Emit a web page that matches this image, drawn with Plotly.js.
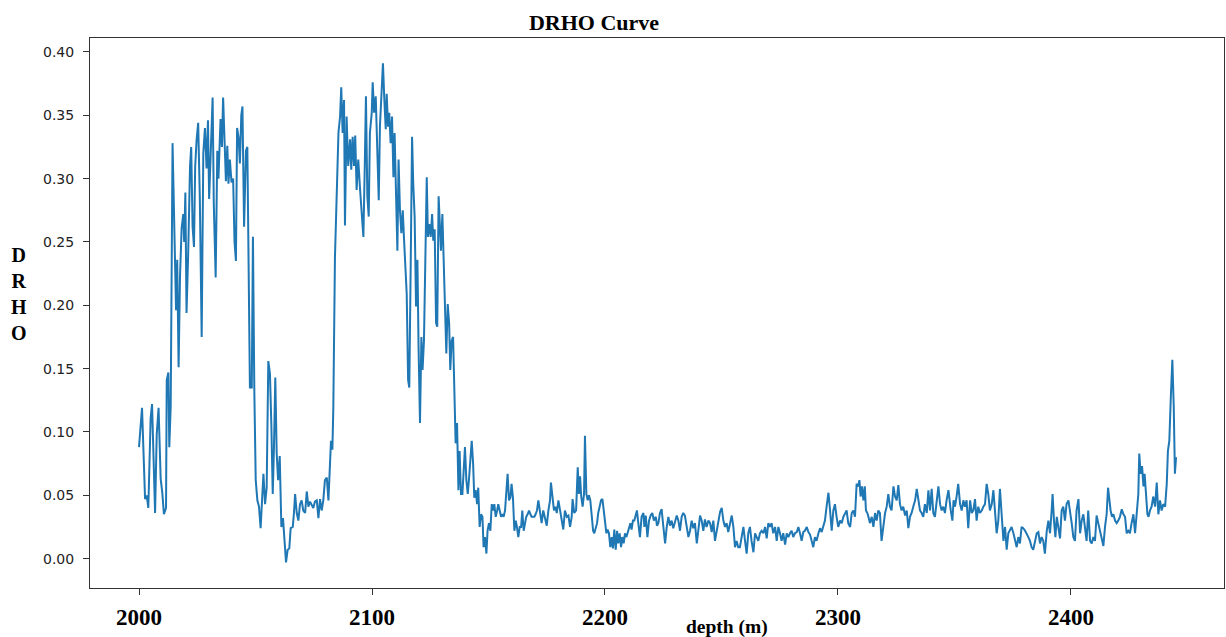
<!DOCTYPE html>
<html>
<head>
<meta charset="utf-8">
<script src="https://cdn.plot.ly/plotly-3.0.1.min.js"></script>
<style>html,body{margin:0;padding:0;background:#fff;}#chart{width:1226px;height:637px;}</style>
</head>
<body>
<div id="chart"></div>
<script>
// depth (m)
const depth = [
2000.0,2001.3,2002.6,2003.3,2004.0,2005.0,2005.6,2006.9,2007.6,2008.4,2009.3,2010.0,2010.7,2011.6,2011.9,2012.6,2013.0,2013.6,2014.4,2015.4,
2015.9,2016.4,2017.0,2017.6,2018.3,2019.0,2019.4,2019.9,2020.4,2021.1,2021.9,2022.4,2023.0,2023.6,2024.1,2024.7,2025.4,2026.1,2026.9,2027.6,
2028.3,2029.0,2029.6,2030.1,2030.9,2031.6,2032.1,2032.9,2033.6,2034.1,2035.0,2035.6,2036.1,2036.7,2037.3,2037.9,2038.4,2039.0,2039.7,2040.4,
2041.0,2041.6,2042.1,2042.7,2043.3,2043.9,2044.4,2045.1,
2045.9,2046.5,2047.1,2047.6,2048.4,2048.9,2049.5,2050.1,2050.8,2051.5,2052.2,2052.8,2053.4,2054.1,2054.8,2055.5,2056.2,2056.8,2057.4,2057.9,
2058.5,2059.1,2059.7,2060.4,2061.1,2061.8,2062.5,2063.1,2063.8,2064.5,2065.1,2066.0,2066.5,2067.0,2067.7,2068.4,2069.1,2069.8,2070.5,2071.3,
2072.0,2072.7,2073.4,2074.1,2074.8,2075.5,2076.3,2077.0,2077.7,2078.4,2079.1,2079.8,2080.6,2081.3,2082.0,2082.4,2083.0,2083.4,2084.1,2084.8,
2085.6,2086.3,2086.8,2087.4,2088.0,2088.4,2089.1,2089.8,2090.6,2091.1,2091.7,2092.3,2092.8,2093.4,2094.1,2094.9,2095.6,2096.3,2096.9,2097.4,
2098.0,2098.6,2099.1,2099.9,2100.3,2100.9,2101.6,2102.3,2102.9,2103.4,2104.1,2104.7,2105.3,2105.9,2106.3,2106.9,2107.4,2108.0,2108.6,2109.2,
2109.7,2110.3,2110.9,2111.4,2112.0,2112.6,2113.2,2113.7,2114.3,2114.9,2115.5,2116.0,2116.6,2117.2,2117.7,2118.3,2118.9,2119.5,2120.0,2120.6,
2121.2,2121.7,2122.3,2122.9,2123.5,2124.0,2124.6,2125.2,2125.8,2126.3,2126.9,2127.5,2128.0,2128.6,
2129.6,2130.2,2130.8,2131.3,2131.9,2132.5,2133.1,2133.6,2134.2,2134.8,2135.3,2135.9,2136.5,2137.1,2137.6,2138.2,2138.8,2139.3,2139.9,2140.5,
2141.1,2141.6,2142.2,2142.8,2143.4,2143.9,2144.5,2145.1,2145.6,2146.2,2146.8,2147.4,2147.9,2148.5,2149.1,2149.6,2150.2,2150.8,2151.4,2151.9,
2152.5,2153.1,2153.7,2154.2,2154.8,2155.4,2155.9,2156.5,2157.1,2157.7,2158.2,2158.8,2159.4,2159.9,2160.5,2161.1,2161.7,2162.2,2162.8,2163.4,
2164.0,2164.5,2165.1,2165.7,2166.2,2166.8,2167.4,2168.0,2168.5,2169.1,2169.7,2170.2,2170.8,2171.4,
2172.1,2172.8,2173.5,2174.3,2175.0,2175.7,2176.4,2176.8,2177.5,2178.1,2178.7,2179.3,2180.0,2180.7,2181.4,2182.1,2182.8,2183.6,2184.3,2185.0,
2185.7,2186.1,2186.8,2187.6,2188.3,2188.8,2189.3,2189.8,2190.4,2191.0,2191.4,2192.0,2192.6,2193.1,2193.7,2194.3,2194.9,2195.4,2196.0,2196.6,
2197.1,2197.7,2198.3,2198.9,2199.4,2200.0,2200.6,2201.1,2201.7,2202.3,2202.9,2203.4,2204.0,2204.6,2205.2,2205.7,2206.3,2206.9,2207.4,2208.0,
2208.6,2209.2,2209.7,2210.3,2210.9,2211.4,2212.0,2212.6,2213.2,2213.7,2214.3,
2215.0,2215.7,2216.5,2216.9,2217.5,2218.2,2218.9,2219.6,2220.3,2221.0,2221.8,2222.3,2222.9,2223.6,2224.3,2225.0,2225.8,2226.5,2227.2,2227.9,
2228.6,2229.3,2230.1,2230.8,2231.5,2232.2,2232.9,2233.6,2234.3,2235.1,2235.8,2236.5,2237.2,2237.9,2238.6,2239.4,2240.1,2240.8,2241.5,2242.2,
2242.9,2243.6,2244.4,2245.1,2245.8,2246.5,2247.2,2247.9,2248.6,2249.4,2250.1,2250.8,2251.5,2252.2,2252.9,2253.7,2254.4,2255.1,2255.8,2256.5,
2257.2,
2257.9,2258.7,2259.4,2260.1,2260.8,2261.5,2262.2,2262.9,2263.7,2264.4,2265.1,2265.8,2266.5,2267.2,2268.0,2268.7,2269.4,2270.1,2270.8,2271.5,
2272.2,2273.0,2273.7,2274.4,2275.1,2275.8,2276.5,2277.3,2278.0,2278.7,2279.4,2280.1,2280.8,2281.5,2282.3,2283.0,2283.7,2284.4,2285.1,2285.8,
2286.6,2287.3,2288.0,2288.7,2289.4,2290.1,2290.8,2291.6,2292.3,2293.0,2293.7,2294.4,2295.1,2295.9,2296.6,2297.3,2298.0,2298.7,2299.4,2300.1,
2300.9,2301.6,2302.3,
2303.0,2303.7,2304.4,2305.2,2305.9,2306.6,2307.3,2308.0,2308.7,2309.2,2309.7,2310.3,2310.9,2311.5,2312.0,2312.6,2313.2,2313.7,2314.5,2315.2,
2315.9,2316.6,2317.3,2318.0,2318.7,2319.5,2320.2,2320.9,2321.6,2322.3,2323.0,2323.8,2324.5,2325.2,2325.9,2326.6,2327.3,2328.0,2328.8,2329.5,
2330.2,2330.9,2331.6,2332.3,2333.1,2333.8,2334.5,2335.2,2335.9,2336.6,2337.3,2338.1,2338.8,2339.5,2340.2,2340.9,2341.6,2342.4,2343.1,2343.8,
2344.5,2345.2,2345.9,2346.6,2347.4,
2348.4,2349.1,2349.6,2350.2,2350.9,2351.6,2352.4,2353.1,2353.8,2354.5,2355.2,2355.9,2356.7,2357.4,2358.1,2358.8,2359.5,2360.2,2360.9,2361.7,
2362.4,2363.1,2363.8,2364.5,2365.2,2366.0,2366.7,2367.4,2368.1,2368.8,2369.5,2370.2,2371.0,2371.7,2372.4,2373.1,2373.8,2374.5,2375.3,2376.0,
2376.7,2377.4,2378.1,2378.8,2379.5,2380.3,2381.0,2381.7,2382.4,2383.1,2383.8,2384.6,2385.3,2386.0,2386.7,2387.4,2388.1,2388.8,2389.6,2390.3,
2391.0,2391.7,2392.1,
2392.7,2393.3,2393.9,2394.6,2395.3,2396.0,2396.7,2397.4,2398.1,2398.9,2399.6,2400.3,2401.0,2401.7,2402.4,2403.2,2403.9,2404.6,2405.3,2406.0,
2406.7,2407.4,2408.2,2408.9,2409.6,2410.3,2411.0,2411.7,2412.5,2413.2,2413.9,2414.6,2415.3,2415.9,2416.5,2417.0,2417.6,2418.2,2418.9,2419.6,
2420.3,2421.0,2421.8,2422.5,2423.2,2423.9,2424.6,2425.3,2426.0,2426.8,2427.5,2428.2,2428.9,2429.3,2429.9,2430.5,2431.1,2431.6,2432.2,2432.8,
2433.3,2433.9,2434.6,2435.3,2436.1,2436.8,2437.5,2438.2,2438.9,2439.6,2440.4,2441.1,2441.6,2442.2,2442.8,2443.5,2444.1,2444.6,2445.1
];
// DRHO values
const drho = [
.088,.119,.047,.050,.040,.111,.122,.036,.098,.119,.063,.052,.035,.040,.141,.147,.088,.120,.328,.250,
.196,.236,.151,.223,.261,.272,.250,.289,.194,.240,.310,.325,.262,.246,.309,.330,.344,.285,.175,.320,
.340,.308,.346,.284,.320,.364,.280,.222,.322,.300,.347,.325,.364,.325,.298,.326,.296,.315,.297,.300,
.250,.235,.340,.333,.312,.350,.357,.262,
.322,.325,.225,.135,.135,.254,.132,.062,.046,.041,.024,.043,.067,.043,.056,.156,.146,.106,.051,.086,
.143,.083,.062,.081,.025,.032,.012,-.003,.007,.008,.024,.025,.036,.051,.036,.030,.043,.046,.038,.036,
.053,.041,.045,.043,.040,.045,.046,.032,.047,.038,.046,.062,.064,.046,.072,.093,.086,.119,.238,.296,
.336,.349,.372,.336,.362,.263,.349,.310,.331,.307,.333,.310,.334,.291,.315,.291,.270,.254,.310,.365,
.286,.270,.336,.352,.376,.352,.365,.323,.283,.341,.375,.391,.362,.339,.367,.341,.352,.328,.349,.301,
.336,.278,.243,.315,.275,.257,.275,.254,.233,.209,.141,.135,.230,.333,.296,.270,.199,.236,.165,.107,
.175,.149,.172,.254,.301,.254,.264,.254,.272,.251,.260,.186,.183,.286,
.243,.272,.238,.204,.162,.201,.186,.149,.172,.175,.144,.091,.107,.054,.085,.051,.051,.072,.088,.062,
.051,.062,.080,.093,.075,.048,.054,.043,.056,.025,.035,.033,.009,.017,.004,.022,.028,.022,.043,.038,
.043,.033,.038,.043,.038,.033,.035,.033,.038,.051,.067,.046,.048,.059,.048,.022,.030,.025,.017,.025,
.025,.038,.022,.028,.033,.035,.038,.035,.033,.033,.033,.035,.038,.046,
.036,.028,.038,.030,.026,.038,.046,.060,.049,.038,.041,.036,.046,.038,.028,.023,.038,.033,.034,.025,
.033,.047,.036,.038,.072,.051,.065,.049,.041,.051,.097,.051,.046,.050,.046,.033,.022,.020,.025,.028,
.036,.041,.046,.047,.038,.028,.020,.023,.020,.009,.017,.008,.023,.007,.022,.012,.020,.009,.017,.012,
.020,.017,.020,.025,.028,.023,.030,.030,.036,.038,.028,
.017,.033,.036,.025,.034,.017,.030,.034,.036,.030,.033,.026,.028,.036,.039,.026,.012,.025,.033,.026,
.030,.024,.029,.034,.030,.022,.033,.036,.034,.025,.017,.022,.030,.024,.028,.012,.025,.034,.030,.022,
.031,.025,.030,.028,.021,.030,.014,.022,.030,.037,.040,.030,.025,.028,.021,.028,.034,.025,.009,.014,
.009,
.009,.017,.025,.014,.004,.020,.025,.014,.005,.020,.017,.014,.020,.022,.020,.025,.016,.028,.025,.028,
.020,.025,.014,.025,.020,.014,.020,.011,.020,.017,.020,.022,.017,.020,.021,.025,.020,.014,.021,.022,
.025,.021,.019,.014,.009,.017,.014,.020,.024,.021,.025,.030,.041,.052,.038,.022,.038,.043,.033,.025,
.030,.028,.033,
.036,.038,.028,.025,.036,.038,.033,.059,.057,.062,.049,.057,.046,.057,.038,.036,.032,.028,.033,.025,
.036,.030,.038,.036,.014,.025,.036,.041,.051,.041,.038,.057,.049,.046,.058,.043,.038,.041,.034,.038,
.024,.033,.036,.041,.046,.055,.046,.038,.036,.033,.043,.036,.054,.038,.055,.036,.033,.046,.057,.043,
.038,.041,.036,.046,.054,
.038,.030,.046,.041,.049,.059,.043,.038,.046,.041,.046,.024,.046,.036,.038,.047,.030,.041,.036,.038,
.041,.043,.059,.051,.038,.043,.054,.033,.020,.030,.055,.036,.014,.025,.007,.020,.022,.025,.020,.014,
.009,.017,.012,.025,.024,.022,.020,.017,.014,.009,.007,.014,.020,.021,.012,.017,.014,.004,.022,.030,
.020,.038,.051,
.030,.017,.033,.025,.016,.038,.041,.030,.043,.046,.038,.028,.017,.014,.038,.047,.020,.030,.035,.025,
.014,.038,.014,.012,.017,.014,.034,.028,.022,.017,.010,.025,.035,.056,.043,.038,.033,.035,.030,.028,
.030,.033,.039,.035,.033,.020,.022,.020,.028,.035,.020,.035,.051,.083,.067,.073,.057,.067,.051,.035,
.033,.038,.041,.049,.041,.060,.035,.046,.038,.043,.041,.059,.085,.093,.125,.157,.120,.067,.080
];
const xTicks = [2000, 2100, 2200, 2300, 2400];
const yTicks = [0, 0.05, 0.10, 0.15, 0.20, 0.25, 0.30, 0.35, 0.40];

const serif = 'Liberation Serif, Times New Roman, serif';
const trace = {
  x: depth, y: drho, type: 'scatter', mode: 'lines',
  line: {color: '#1f77b4', width: 2}, hoverinfo: 'x+y'
};
const layout = {
  width: 1226, height: 637,
  margin: {l: 90, r: 2, t: 38, b: 49},
  paper_bgcolor: '#fff', plot_bgcolor: '#fff',
  showlegend: false,
  title: {
    text: 'DRHO Curve',
    font: {family: serif, size: 22, color: '#000', weight: 'bold'},
    xref: 'container', x: 0.4845, xanchor: 'center',
    yref: 'container', y: 0.965, yanchor: 'middle'
  },
  xaxis: {
    range: [1978.97, 2465.67],
    tickvals: xTicks, ticktext: xTicks.map(String),
    ticks: 'outside', ticklen: 6, tickcolor: '#333', tickwidth: 1,
    showline: true, mirror: true, linecolor: '#333', linewidth: 1,
    showgrid: false, zeroline: false,
    tickfont: {family: serif, size: 23, color: '#000', weight: 'bold'},
    ticklabelstandoff: 2
  },
  yaxis: {
    range: [-0.0232, 0.411],
    tickvals: yTicks, tickformat: '.2f',
    ticks: 'outside', ticklen: 6, tickcolor: '#333', tickwidth: 1,
    showline: true, mirror: true, linecolor: '#333', linewidth: 1,
    showgrid: false, zeroline: false,
    tickfont: {family: 'DejaVu Sans, sans-serif', size: 14, color: '#222'},
    ticklabelstandoff: 6
  },
  annotations: [
    {text: 'D<br>R<br>H<br>O', xref: 'paper', yref: 'paper', x: -0.0626, y: 0.535,
     xanchor: 'center', yanchor: 'middle', showarrow: false, align: 'center',
     font: {family: serif, size: 20, color: '#000', weight: 'bold'}},
    {text: 'depth (m)', xref: 'paper', yref: 'paper', x: 0.562, y: -0.0709,
     xanchor: 'center', yanchor: 'middle', showarrow: false,
     font: {family: serif, size: 19.5, color: '#000', weight: 'bold'}}
  ]
};
Plotly.newPlot('chart', [trace], layout, {displayModeBar: false, staticPlot: true});
</script>
</body>
</html>
